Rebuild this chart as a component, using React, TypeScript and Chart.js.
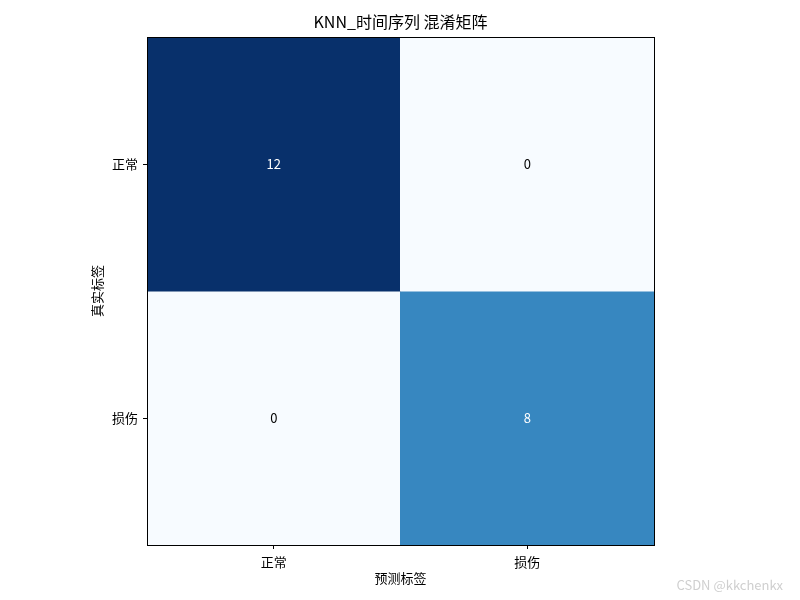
import React, { useEffect, useRef } from "react";
import { Chart, registerables } from "chart.js";

Chart.register(...registerables);

const titleText = "KNN_时间序列 混淆矩阵";
const predLabels = ["正常", "损伤"];
const trueLabels = ["正常", "损伤"];
const row0 = [12, 0];
const row1 = [0, 8];
const matrix = [row0, row1];
const xTitle = "预测标签";
const yTitle = "真实标签";
const watermark = "CSDN @kkchenkx";

const FONT = "'Noto Sans CJK SC', 'DejaVu Sans', sans-serif";

const bluesStops = [
  [247, 251, 255],
  [222, 235, 247],
  [198, 219, 239],
  [158, 202, 225],
  [107, 174, 214],
  [66, 146, 198],
  [33, 113, 181],
  [8, 81, 156],
  [8, 48, 107],
];

function blues(t: number): string {
  const x = Math.max(0, Math.min(1, t)) * (bluesStops.length - 1);
  const i = Math.min(bluesStops.length - 2, Math.floor(x));
  const f = x - i;
  const a = bluesStops[i];
  const b = bluesStops[i + 1];
  const c = a.map((v, k) => Math.round(v + (b[k] - v) * f));
  return `rgb(${c[0]},${c[1]},${c[2]})`;
}

export default function App() {
  const ref = useRef<HTMLCanvasElement | null>(null);

  useEffect(() => {
    if (!ref.current) return;
    const vmax = Math.max(...matrix.flat());
    const vmin = Math.min(...matrix.flat());
    const datasets = matrix.map((row, r) => ({
      label: trueLabels[r],
      data: row.map(() => [r - 0.5, r + 0.5]),
      counts: row,
      backgroundColor: row.map((v) => blues((v - vmin) / (vmax - vmin))),
      borderWidth: 0,
      barPercentage: 1,
      categoryPercentage: 1,
      grouped: false,
      inflateAmount: 0.5,
    }));

    const overlay = {
      id: "overlay",
      afterDatasetsDraw(chart: any) {
        const ctx = chart.ctx;
        ctx.save();
        ctx.font = `13px ${FONT}`;
        ctx.textAlign = "center";
        ctx.textBaseline = "middle";
        chart.data.datasets.forEach((ds: any, di: number) => {
          const meta = chart.getDatasetMeta(di);
          meta.data.forEach((el: any, i: number) => {
            const v = ds.counts[i];
            const p = el.getCenterPoint();
            ctx.fillStyle = v > vmax / 2 ? "#ffffff" : "#000000";
            ctx.fillText(String(v), p.x, p.y);
          });
        });
        const a = chart.chartArea;
        ctx.strokeStyle = "#000";
        ctx.lineWidth = 1;
        ctx.strokeRect(
          Math.round(a.left) + 0.5,
          Math.round(a.top) + 0.5,
          Math.round(a.right - a.left),
          Math.round(a.bottom - a.top)
        );
        ctx.restore();
      },
      afterDraw(chart: any) {
        const ctx = chart.ctx;
        const a = chart.chartArea;
        ctx.save();
        ctx.font = `16px ${FONT}`;
        ctx.fillStyle = "#000";
        ctx.textAlign = "center";
        ctx.textBaseline = "middle";
        ctx.fillText(titleText, (a.left + a.right) / 2, 22);
        ctx.font = `13px ${FONT}`;
        ctx.fillStyle = "#cfcfcf";
        ctx.textAlign = "right";
        ctx.fillText(watermark, 783, 585);
        ctx.restore();
      },
    };

    const chart = new Chart(ref.current, {
      type: "bar",
      data: { labels: predLabels, datasets: datasets as any },
      options: {
        animation: false,
        responsive: false,
        maintainAspectRatio: false,
        layout: { padding: { left: 0, right: 146, top: 37, bottom: 0 } },
        plugins: {
          legend: { display: false },
          tooltip: { enabled: false },
          title: { display: false },
        },
        scales: {
          x: {
            type: "category",
            offset: true,
            grid: {
              display: true,
              drawOnChartArea: false,
              drawTicks: true,
              tickLength: 4,
              offset: false,
              color: "#000",
            },
            border: { display: false },
            ticks: {
              color: "#000",
              font: { family: FONT, size: 13 },
              padding: 5,
              maxRotation: 0,
            },
            title: {
              display: true,
              text: xTitle,
              color: "#000",
              font: { family: FONT, size: 13 },
              padding: { top: 0, bottom: 14 },
            },
            afterFit(scale: any) {
              scale.height = 55;
            },
          },
          y: {
            type: "linear",
            min: -0.5,
            max: 1.5,
            reverse: true,
            grid: {
              display: true,
              drawOnChartArea: false,
              drawTicks: true,
              tickLength: 4,
              color: "#000",
            },
            border: { display: false },
            afterBuildTicks(scale: any) {
              scale.ticks = trueLabels.map((_, i) => ({ value: i }));
            },
            ticks: {
              color: "#000",
              font: { family: FONT, size: 13 },
              padding: 5,
              callback: (v: any) => trueLabels[Math.round(Number(v))] ?? "",
            },
            title: {
              display: true,
              text: yTitle,
              color: "#000",
              font: { family: FONT, size: 13 },
              padding: { top: 89, bottom: 0 },
            },
            afterFit(scale: any) {
              scale.width = 147;
            },
          },
        },
      },
      plugins: [overlay],
    });
    return () => chart.destroy();
  }, []);

  return (
    <div style={{ position: "absolute", left: 0, top: 0, width: 800, height: 600, background: "#fff" }}>
      <canvas ref={ref} width={800} height={600} style={{ width: 800, height: 600 }} />
    </div>
  );
}
